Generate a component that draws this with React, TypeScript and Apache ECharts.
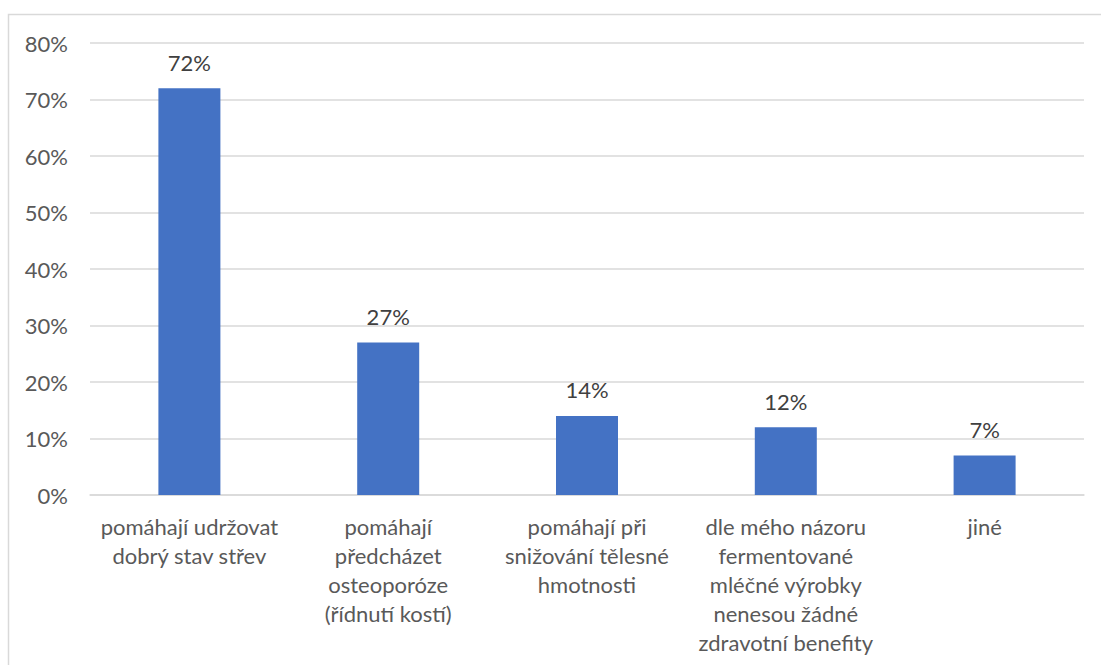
import React, { useEffect, useRef } from "react";
import * as echarts from "echarts";

const categories = [
  "pomáhají udržovat\ndobrý stav střev",
  "pomáhají\npředcházet\nosteoporóze\n(řídnutí kostí)",
  "pomáhají při\nsnižování tělesné\nhmotnosti",
  "dle mého názoru\nfermentované\nmléčné výrobky\nnenesou žádné\nzdravotní benefity",
  "jiné",
];
const shares = [72, 27, 14, 12, 7];
const yTicks = [0, 10, 20, 30, 40, 50, 60, 70, 80];

const FONT = "Lato, 'Liberation Sans', sans-serif";
const TEXT = "#595959";

export default function App() {
  const ref = useRef<HTMLDivElement>(null);

  useEffect(() => {
    if (!ref.current) return;
    const chart = echarts.init(ref.current, undefined, { renderer: "svg" });
    chart.setOption({
      animation: false,
      backgroundColor: "#ffffff",
      textStyle: { fontFamily: FONT },
      graphic: [
        {
          type: "polyline",
          shape: { points: [[8.5, 700], [8.5, 14.5], [1110, 14.5]] },
          style: { stroke: "#d9d9d9", lineWidth: 1.5, fill: "none" },
          silent: true,
        },
      ],
      grid: { left: 90, right: 17, top: 43, bottom: 170, containLabel: false },
      xAxis: {
        type: "category",
        data: categories,
        axisLine: { show: true, lineStyle: { color: "#d9d9d9", width: 1.5 } },
        axisTick: { show: false },
        axisLabel: {
          interval: 0,
          color: TEXT,
          fontSize: 22,
          lineHeight: 29,
          margin: 17,
          fontFamily: FONT,
        },
      },
      yAxis: {
        type: "value",
        min: yTicks[0],
        max: yTicks[yTicks.length - 1],
        interval: 10,
        axisLine: { show: false },
        axisTick: { show: false },
        splitLine: { lineStyle: { color: "#d9d9d9", width: 1.5 } },
        axisLabel: {
          color: TEXT,
          fontSize: 22,
          margin: 22,
          fontFamily: FONT,
          formatter: (v: number) => `${v}%`,
        },
      },
      series: [
        {
          type: "bar",
          data: shares,
          barWidth: 62,
          itemStyle: { color: "#4472c4" },
          label: {
            show: true,
            position: "top",
            distance: 15,
            color: "#404040",
            fontSize: 22,
            fontFamily: FONT,
            formatter: (p: { value: number }) => `${p.value}%`,
          },
        },
      ],
    });
    return () => chart.dispose();
  }, []);

  return (
    <div
      ref={ref}
      style={{ position: "absolute", left: 0, top: 0, width: 1101, height: 665 }}
    />
  );
}
